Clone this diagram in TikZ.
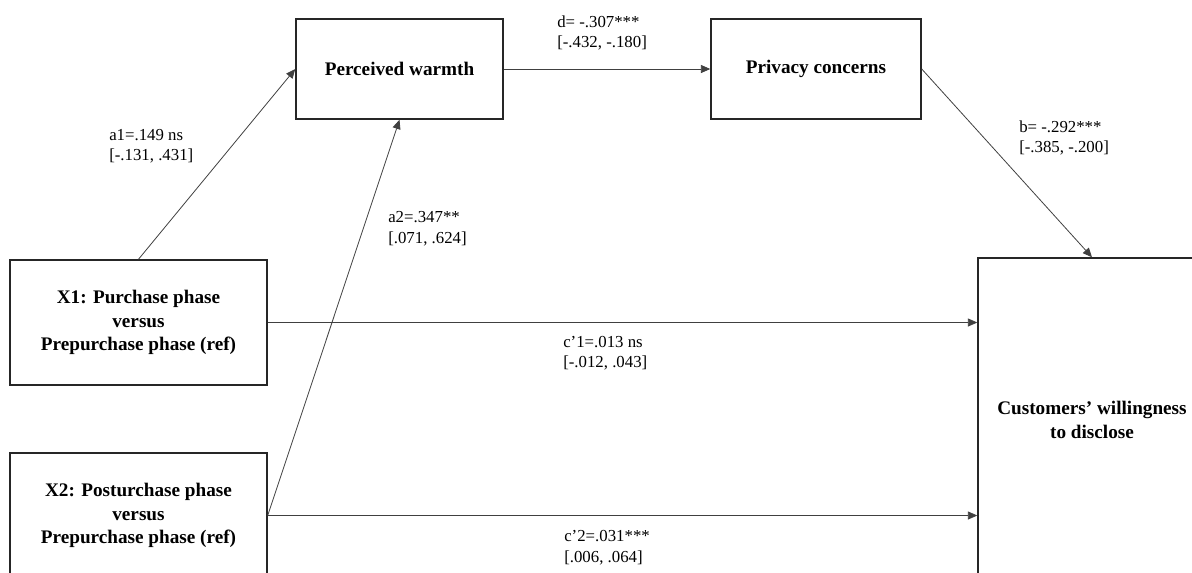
\documentclass[tikz,border=0pt]{standalone}
\usepackage{fontspec}
\setmainfont{Liberation Serif}
\usepackage{tikz}
\usetikzlibrary{arrows.meta}
\tikzstyle{varbox}=[draw=black!85, line width=1.1pt, fill=white, align=center, font=\fontsize{14.4}{17.6}\selectfont\bfseries]
\tikzstyle{coef}=[align=left, inner sep=0pt, anchor=west, font=\fontsize{12.6}{15.4}\selectfont]
\tikzstyle{effect}=[draw=black!75, line width=0.6pt, -{Triangle[length=7pt,width=6pt]}]

\begin{document}
\begin{tikzpicture}[x=0.75pt,y=-0.75pt]
	\useasboundingbox (0,0) rectangle (1192,572);
	\clip (0,0) rectangle (1192,572);
	\node[varbox, minimum width=155.25pt, minimum height=75pt] (warmth) at (399.5,69) {Perceived warmth};
	\node[varbox, minimum width=157.5pt, minimum height=75pt] (privacy) at (816,69) {Privacy concerns};
	\node[varbox, minimum width=192.75pt, minimum height=93.75pt] (xone) at (138.5,322.5) {X1: Purchase phase\\versus\\Prepurchase phase (ref)};
	\node[varbox, minimum width=192.75pt, minimum height=93.75pt] (xtwo) at (138.5,515.5) {X2: Posturchase phase\\versus\\Prepurchase phase (ref)};
	\node[varbox, minimum width=171pt, minimum height=243pt] (disclose) at (1092,420) {Customers’ willingness\\to disclose};
	\draw[effect] (xone.north) -- (warmth.west);
	\draw[effect] (xtwo.east) -- (warmth.south);
	\draw[effect] (warmth) -- (privacy);
	\draw[effect] (privacy.east) -- (disclose.north);
	\draw[effect] (xone.east) -- (xone.east -| disclose.west);
	\draw[effect] (xtwo.east) -- (xtwo.east -| disclose.west);
	\node[coef] (a1lab) at (109,146) {a1=.149 ns\\{[}-.131, .431]};
	\node[coef] (a2lab) at (388,228.5) {a2=.347**\\{[}.071, .624]};
	\node[coef] (dlab) at (557,33) {d= -.307***\\{[}-.432, -.180]};
	\node[coef] (blab) at (1019,138) {b= -.292***\\{[}-.385, -.200]};
	\node[coef] (c1lab) at (563,353) {c’1=.013 ns\\{[}-.012, .043]};
	\node[coef] (c2lab) at (564,547.5) {c’2=.031***\\{[}.006, .064]};
\end{tikzpicture}
\end{document}
